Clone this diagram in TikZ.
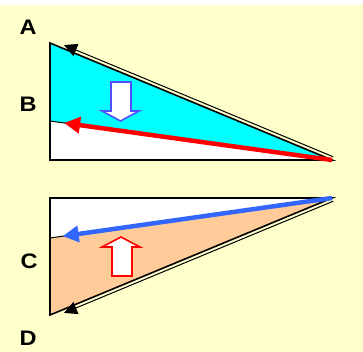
\documentclass[tikz,border=0pt]{standalone}
\usepackage{fontspec}
\setmainfont{Liberation Sans}
\newfontfamily\lblfont[FakeStretch=1.12]{Liberation Sans}
\usetikzlibrary{arrows.meta,calc}
\definecolor{bgyel}{HTML}{FFFFCC}
\definecolor{wedgecyan}{HTML}{00FFFF}
\definecolor{peach}{HTML}{FFCC99}
\definecolor{arrblue}{HTML}{3366FF}
\definecolor{hollowblue}{HTML}{5050FF}
\begin{document}
\begin{tikzpicture}[x=1pt,y=-1pt,line join=miter,
 lbl/.style={anchor=base,font=\lblfont\bfseries\fontsize{21}{21}\selectfont,inner sep=0pt},
 edge/.style={draw=black,line width=1.6pt},
 thin/.style={draw=black,line width=1pt},
 flow/.style={line width=4.5pt,-{Triangle[length=16pt,width=16pt]}},
 sweep/.style={line width=1pt,-{Triangle[length=13pt,width=13pt]}},
 hollow/.style={fill=white,line width=1.6pt}]
\useasboundingbox (0,0) rectangle (363,352);
\fill[white] (0,0) rectangle (363,352);
\fill[bgyel] (0,5) rectangle (363,352);
% upper wedge
\coordinate (pA) at (50,43); \coordinate (pB) at (50,121); \coordinate (base1) at (50,160); \coordinate (tip1) at (332,160);
\fill[wedgecyan] (pA)--(tip1)--(pB)--cycle;
\fill[white] (pB)--(tip1)--(base1)--cycle;
\draw[thin] (pB)--(tip1);
\draw[edge] (pA)--(tip1)--(base1)--cycle;
\draw[sweep] ($(tip1)+(1.3,-3.2)$)--($(pA)!0.045!(tip1)+(1.3,-3.2)$);
\draw[flow,red] (tip1)--($(pB)!0.05!(tip1)$);
\draw[hollow,draw=hollowblue] (111,82)--(131,82)--(131,111)--(139,111)--(120.5,121)--(102,111)--(111,111)--cycle;
% lower wedge
\coordinate (pC) at (50,238); \coordinate (pD) at (50,315); \coordinate (top2) at (50,198); \coordinate (tip2) at (332,198);
\fill[white] (top2)--(tip2)--(pC)--cycle;
\fill[peach] (pC)--(tip2)--(pD)--cycle;
\draw[thin] (pC)--(tip2);
\draw[edge] (top2)--(tip2)--(pD)--cycle;
\draw[sweep] ($(tip2)+(1.3,3.2)$)--($(pD)!0.045!(tip2)+(1.3,3.2)$);
\draw[flow,arrblue] (tip2)--($(pC)!0.045!(tip2)$);
\draw[hollow,draw=red] (112,276)--(132,276)--(132,247)--(140,247)--(121,237)--(102,247)--(112,247)--cycle;
% labels
\node[lbl] (labA) at (28,35) {A};
\node[lbl] (labB) at (28,112) {B};
\node[lbl] (labC) at (29,268) {C};
\node[lbl] (labD) at (28,345) {D};
\end{tikzpicture}
\end{document}
